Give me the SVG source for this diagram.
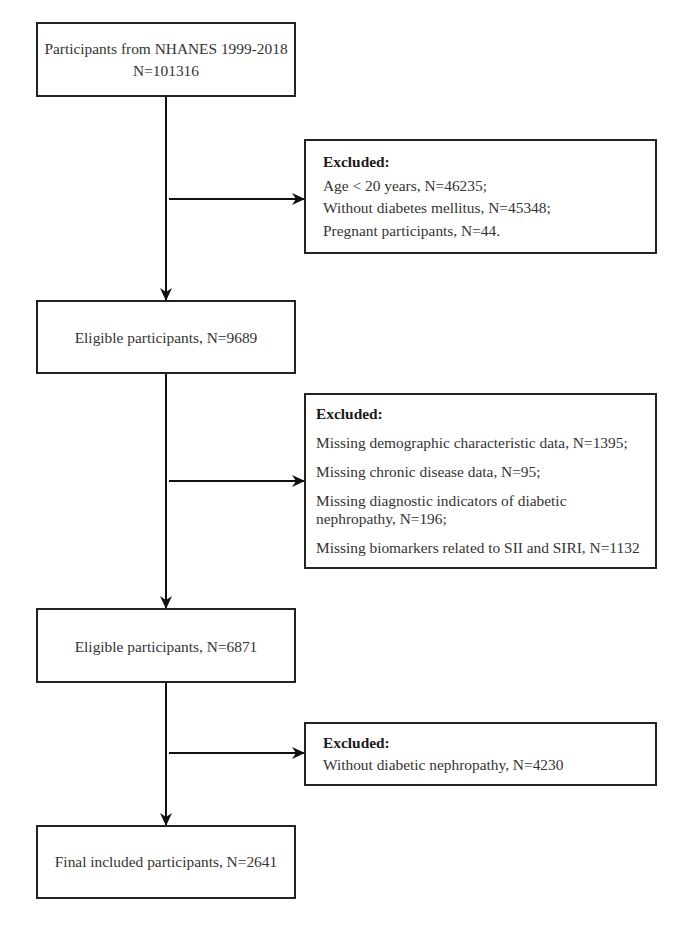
<svg xmlns="http://www.w3.org/2000/svg" width="685" height="931" viewBox="0 0 685 931">
<style>
.box{fill:#fff;stroke:#222;stroke-width:2}
.t{font-family:"Liberation Serif","Times New Roman",serif;font-size:15.4px;fill:#333}
.c{text-anchor:middle}
.b{font-weight:bold;fill:#1a1a1a}
.ln{stroke:#111;stroke-width:2;fill:none}
</style>
<defs>
<marker id="arr" viewBox="0 0 13 12" refX="13" refY="6" markerWidth="13" markerHeight="12" markerUnits="userSpaceOnUse" orient="auto">
<path d="M0,0 L13,6 L0,12 L4,6 Z" fill="#111"/>
</marker>
</defs>
<rect width="685" height="931" fill="#fff"/>
<g id="connectors">
<line class="ln" x1="166" y1="96" x2="166" y2="301" marker-end="url(#arr)"/>
<line class="ln" x1="169" y1="199" x2="305" y2="199" marker-end="url(#arr)"/>
<line class="ln" x1="166" y1="373" x2="166" y2="609" marker-end="url(#arr)"/>
<line class="ln" x1="169" y1="481" x2="305" y2="481" marker-end="url(#arr)"/>
<line class="ln" x1="166" y1="682" x2="166" y2="826" marker-end="url(#arr)"/>
<line class="ln" x1="169" y1="753" x2="305" y2="753" marker-end="url(#arr)"/>
</g>
<g id="n1">
<rect class="box" x="37" y="23" width="258" height="73"/>
<text class="t c" x="166" y="54">Participants from NHANES 1999-2018</text>
<text class="t c" x="166" y="76">N=101316</text>
</g>
<g id="x1">
<rect class="box" x="305" y="140" width="351" height="113"/>
<text class="t b" x="323" y="167">Excluded:</text>
<text class="t" x="323" y="190.5">Age &lt; 20 years, N=46235;</text>
<text class="t" x="323" y="213">Without diabetes mellitus, N=45348;</text>
<text class="t" x="323" y="236">Pregnant participants, N=44.</text>
</g>
<g id="n2">
<rect class="box" x="37" y="301" width="258" height="72"/>
<text class="t c" x="166" y="343">Eligible participants, N=9689</text>
</g>
<g id="x2">
<rect class="box" x="305" y="394" width="351" height="174"/>
<text class="t b" x="316" y="419">Excluded:</text>
<text class="t" x="316" y="448">Missing demographic characteristic data, N=1395;</text>
<text class="t" x="316" y="477">Missing chronic disease data, N=95;</text>
<text class="t" x="316" y="506">Missing diagnostic indicators of diabetic</text>
<text class="t" x="316" y="524">nephropathy, N=196;</text>
<text class="t" x="316" y="553">Missing biomarkers related to SII and SIRI, N=1132</text>
</g>
<g id="n3">
<rect class="box" x="37" y="609" width="258" height="73"/>
<text class="t c" x="166" y="652">Eligible participants, N=6871</text>
</g>
<g id="x3">
<rect class="box" x="305" y="723" width="351" height="62"/>
<text class="t b" x="323" y="748">Excluded:</text>
<text class="t" x="323" y="770">Without diabetic nephropathy, N=4230</text>
</g>
<g id="n4">
<rect class="box" x="37" y="826" width="258" height="72"/>
<text class="t c" x="166" y="867">Final included participants, N=2641</text>
</g>
</svg>
